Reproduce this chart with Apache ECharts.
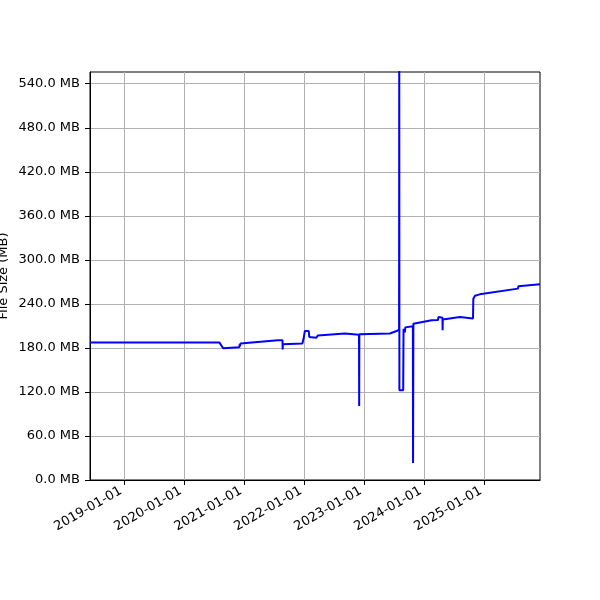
<!DOCTYPE html>
<html>
<head>
<meta charset="utf-8">
<script src="https://cdn.jsdelivr.net/npm/echarts@6/dist/echarts.min.js"></script>
<style>
    html, body { margin: 0; padding: 0; background: #fff; }
    #chart { width: 600px; height: 600px; }
</style>
</head>
<body>
<div id="chart"></div>
<script>
    //data
    var dates = [
        '2018-06-06', '2020-08-01', '2020-08-25', '2020-12-01', '2020-12-03', '2020-12-05',
        '2020-12-08', '2021-07-24', '2021-07-27', '2021-07-29', '2021-08-21', '2021-08-22',
        '2021-08-23', '2021-12-20', '2021-12-27', '2022-01-04', '2022-01-28', '2022-01-31',
        '2022-03-15', '2022-03-18', '2022-03-25', '2022-09-05', '2022-09-07', '2022-11-30',
        '2022-12-01', '2022-12-02', '2023-06-06', '2023-07-17', '2023-08-01', '2023-08-02',
        '2023-08-03', '2023-08-26', '2023-08-28', '2023-09-03', '2023-09-05', '2023-09-08',
        '2023-09-10', '2023-09-14', '2023-10-24', '2023-10-25', '2023-10-27', '2024-02-15',
        '2024-03-25', '2024-03-27', '2024-04-21', '2024-04-22', '2024-04-23', '2024-08-05',
        '2024-10-24', '2024-10-26', '2024-11-05', '2024-12-04', '2025-07-25', '2025-07-27',
        '2025-12-06'
    ];
    var sizes = [
        187.5, 187.5, 179.5, 181, 185, 182,
        186, 190.5, 193, 190.5, 190.5, 178,
        185, 186, 192, 203, 203, 195,
        194, 194, 197, 199.5, 197.5, 198,
        101, 198.5, 199.6, 203, 205, 600,
        122.4, 122.4, 206, 208.6, 201, 208,
        206, 209.5, 209.5, 23, 213, 217.7,
        218, 222, 221, 204, 218.6, 222,
        220, 247, 251, 253, 260.8, 264,
        266.7
    ];
    var yTicks = [0, 60, 120, 180, 240, 300, 360, 420, 480, 540];
    var xTicks = ['2019-01-01', '2020-01-01', '2021-01-01', '2022-01-01', '2023-01-01', '2024-01-01', '2025-01-01'];
    var xMin = '2018-06-06';
    var xMax = '2025-12-06';
    var yMax = 556;

    function toTime(s) {
        var p = s.split('-');
        return Date.UTC(+p[0], +p[1] - 1, +p[2]);
    }

    function pad(n) {
        return n < 10 ? '0' + n : '' + n;
    }

    var seriesData = dates.map(function (d, i) {
        return [toTime(d), sizes[i]];
    });

    var myChart = echarts.init(document.getElementById('chart'));
    var font = 'DejaVu Sans';
    var option = {
        animation: false,
        grid: {
            left: 90,
            right: 60,
            top: 72,
            bottom: 120,
            outerBoundsMode: 'none',
            containLabel: false,
            show: true,
            borderColor: '#000',
            borderWidth: 1,
            backgroundColor: 'transparent'
        },
        xAxis: {
            type: 'value',
            min: toTime(xMin),
            max: toTime(xMax),
            axisLine: {show: true, lineStyle: {color: '#000', width: 1}},
            axisTick: {
                show: true,
                length: 5,
                lineStyle: {color: '#000'},
                customValues: xTicks.map(toTime)
            },
            axisLabel: {
                customValues: xTicks.map(toTime),
                rotate: 30,
                margin: 8,
                padding: [0, 4, 0, 0],
                color: '#000',
                fontFamily: font,
                fontSize: 13,
                formatter: function (v) {
                    var d = new Date(v);
                    return d.getUTCFullYear() + '-' + pad(d.getUTCMonth() + 1) + '-' + pad(d.getUTCDate());
                }
            },
            splitLine: {show: true, lineStyle: {color: '#b0b0b0', width: 1}}
        },
        yAxis: {
            type: 'value',
            min: 0,
            max: yMax,
            name: 'File Size (MB)',
            nameLocation: 'middle',
            nameGap: 80,
            nameMoveOverlap: false,
            nameTextStyle: {color: '#000', fontFamily: font, fontSize: 13},
            axisLine: {show: true, lineStyle: {color: '#000', width: 1}},
            axisTick: {
                show: true,
                length: 5,
                lineStyle: {color: '#000'},
                customValues: yTicks
            },
            axisLabel: {
                customValues: yTicks,
                margin: 10,
                color: '#000',
                fontFamily: font,
                fontSize: 13,
                formatter: function (v) {
                    return v.toFixed(1) + ' MB';
                }
            },
            splitLine: {show: true, lineStyle: {color: '#b0b0b0', width: 1}}
        },
        series: [{
            type: 'line',
            data: seriesData,
            showSymbol: false,
            clip: true,
            lineStyle: {color: '#0000ff', width: 2},
            itemStyle: {color: '#0000ff'}
        }]
    };
    myChart.setOption(option);
</script>
</body>
</html>
